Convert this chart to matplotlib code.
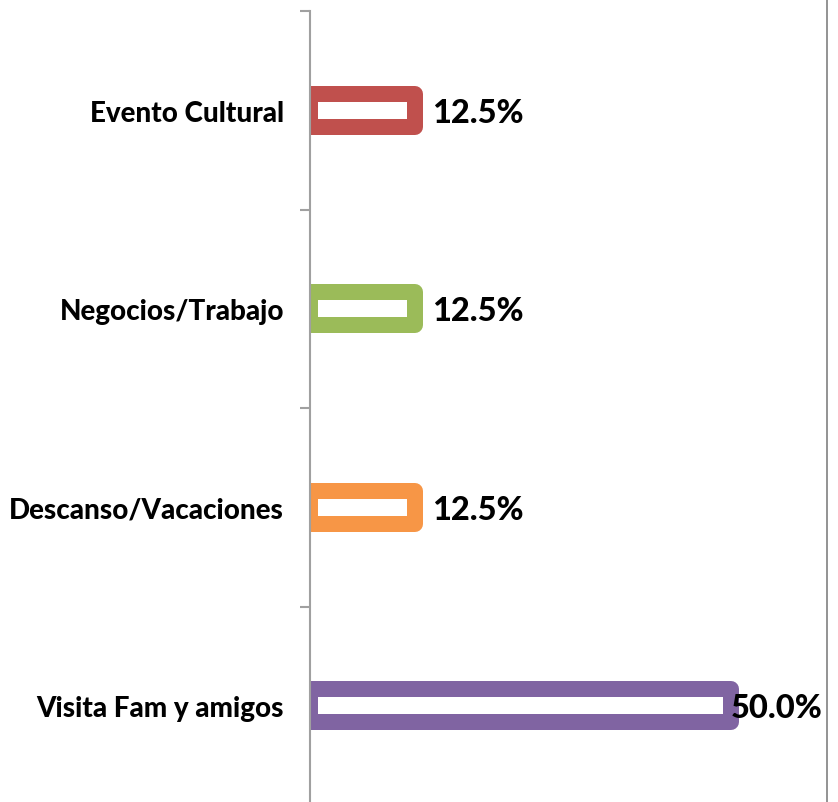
import matplotlib
matplotlib.use("Agg")
import matplotlib.pyplot as plt
from matplotlib.lines import Line2D

categories = ["Visita Fam y amigos", "Descanso/Vacaciones", "Negocios/Trabajo", "Evento Cultural"]
values = [50.0, 12.5, 12.5, 12.5]
colors = ["#8064A2", "#F79646", "#9BBB59", "#C0504D"]
value_labels = ["50.0%", "12.5%", "12.5%", "12.5%"]

W, H = 838, 803
DPI = 100
fig = plt.figure(figsize=(W / DPI, H / DPI), dpi=DPI)
fig.patch.set_facecolor("white")

ax_left, ax_right = 310, 827
ax_top, ax_bottom = 12, 806
ax = fig.add_axes([ax_left / W, 1 - ax_bottom / H, (ax_right - ax_left) / W, (ax_bottom - ax_top) / H])

px_per_unit = 8.42
ax.set_xlim(0, (ax_right - ax_left) / px_per_unit)
ax.set_ylim(-0.5, len(categories) - 0.5)

bar_h = 33 / ((ax_bottom - ax_top) / len(categories))
lw = 16 * 72 / DPI
ypos = list(range(len(categories)))
bars = ax.barh(ypos, values, height=bar_h, color="white", edgecolor=colors,
               linewidth=lw, zorder=2)
for b in bars:
    b.set_joinstyle("round")

FONT = "Lato"
for y, v, lab in zip(ypos, values, value_labels):
    off = 17 if v < 40 else 0
    ax.annotate(lab, (v, y), xytext=(off * 72 / DPI, -2 * 72 / DPI), textcoords="offset points",
                ha="left", va="center", fontsize=23.5, fontweight=900,
                family=FONT, color="black", zorder=3, annotation_clip=False)

for s in ["top", "right", "bottom"]:
    ax.spines[s].set_visible(False)
ax.spines["left"].set_color("#A0A0A0")
ax.spines["left"].set_linewidth(1.5)
ax.spines["left"].set_zorder(4)
ax.set_xticks([])
ax.set_yticks(ypos)
ax.set_yticklabels(categories, fontsize=20, fontweight=900, family=FONT)
ax.tick_params(axis="y", which="major", length=0, pad=26 * 72 / DPI)
ax.set_yticks([y - 0.5 for y in ypos] + [len(categories) - 0.5], minor=True)
ax.tick_params(axis="y", which="minor", length=10 * 72 / DPI, width=1.5, color="#A0A0A0")

fig.add_artist(Line2D([827 / W, 827 / W], [0, 1], transform=fig.transFigure,
                      color="#808080", linewidth=1.2))

fig.savefig("out.png", dpi=DPI, facecolor="white")
